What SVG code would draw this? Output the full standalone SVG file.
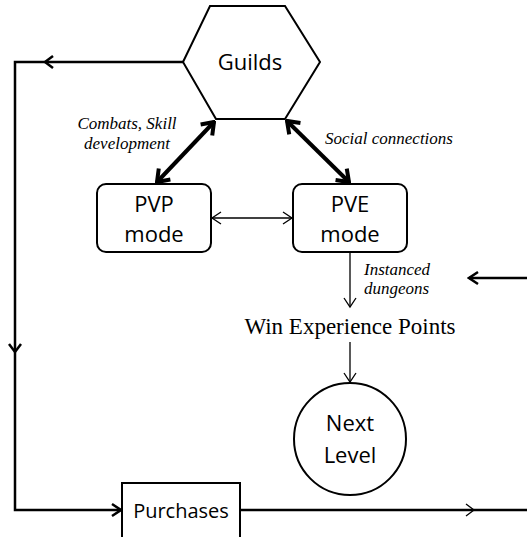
<svg xmlns="http://www.w3.org/2000/svg" width="527" height="537" viewBox="0 0 527 537">
<style>
.sh{fill:#fff;stroke:#000;stroke-width:2}
.lbl{font-family:"Open Sans","Liberation Sans",sans-serif;font-size:22px;fill:#000;text-anchor:middle}
.it{font-family:"Liberation Serif","Times New Roman",serif;font-style:italic;font-size:17px;fill:#000}
.tr{font-family:"Liberation Serif","Times New Roman",serif;font-size:23px;fill:#000;text-anchor:middle}
.thin{fill:none;stroke:#000;stroke-width:1.3}
.thick{fill:none;stroke:#000;stroke-width:4}
.loop{fill:none;stroke:#000;stroke-width:2.5}
</style>
<defs>
<marker id="at" viewBox="-12 -8 14 16" markerWidth="14" markerHeight="16" refX="0" refY="0" orient="auto-start-reverse" markerUnits="userSpaceOnUse">
<path d="M-9,-6 L0,0 L-9,6" fill="none" stroke="#000" stroke-width="1.3"/>
</marker>
<marker id="ak" viewBox="-14 -10 16 20" markerWidth="16" markerHeight="20" refX="0" refY="0" orient="auto-start-reverse" markerUnits="userSpaceOnUse">
<path d="M-11,-8 L0,0 L-11,8" fill="none" stroke="#000" stroke-width="4"/>
</marker>
<marker id="am" viewBox="-12 -8 14 16" markerWidth="14" markerHeight="16" refX="0" refY="0" orient="auto-start-reverse" markerUnits="userSpaceOnUse">
<path d="M-9,-6 L0,0 L-9,6" fill="none" stroke="#000" stroke-width="2.5"/>
</marker>
</defs>
<g id="connectors">
<path class="loop" d="M183,62 H15 V510 H121" marker-end="url(#am)"/>
<path class="loop" d="M53,56 L45,62 L53,68"/>
<path class="loop" d="M9,344 L15,352 L21,344"/>
<path class="loop" d="M240,510 H527"/>
<path class="thin" d="M466,504 L474,510 L466,516"/>
<path class="loop" d="M527,278 H469" marker-end="url(#am)"/>
<path class="thick" d="M214,122 L157,182" marker-start="url(#ak)" marker-end="url(#ak)"/>
<path class="thick" d="M287,121 L349,182" marker-start="url(#ak)" marker-end="url(#ak)"/>
<path class="thin" d="M212,218 H292" marker-start="url(#at)" marker-end="url(#at)"/>
<path class="thin" d="M350,252 V307" marker-end="url(#at)"/>
<path class="thin" d="M350,342 V382" marker-end="url(#at)"/>
<text class="it" x="127" y="129" text-anchor="middle">Combats, Skill</text>
<text class="it" x="127" y="149" text-anchor="middle">development</text>
<text class="it" x="325" y="144">Social connections</text>
<text class="it" x="364" y="275">Instanced</text>
<text class="it" x="364" y="294">dungeons</text>
</g>
<g id="guilds">
<polygon class="sh" points="210,6 285,6 320,62 285,119 216,119 183,62"/>
<text class="lbl" x="250" y="70">Guilds</text>
</g>
<g id="pvp">
<rect class="sh" x="97" y="184" width="114" height="68" rx="9"/>
<text class="lbl" x="154" y="212">PVP</text>
<text class="lbl" x="154" y="242">mode</text>
</g>
<g id="pve">
<rect class="sh" x="293" y="184" width="114" height="68" rx="9"/>
<text class="lbl" x="350" y="212">PVE</text>
<text class="lbl" x="350" y="242">mode</text>
</g>
<g id="win">
<text class="tr" x="350" y="334">Win Experience Points</text>
</g>
<g id="next-level">
<circle class="sh" cx="350" cy="439" r="56"/>
<text class="lbl" x="350" y="431">Next</text>
<text class="lbl" x="350" y="463">Level</text>
</g>
<g id="purchases">
<rect class="sh" x="122" y="483" width="118" height="60"/>
<text class="lbl" x="181" y="518" style="font-size:20px">Purchases</text>
</g>
</svg>
